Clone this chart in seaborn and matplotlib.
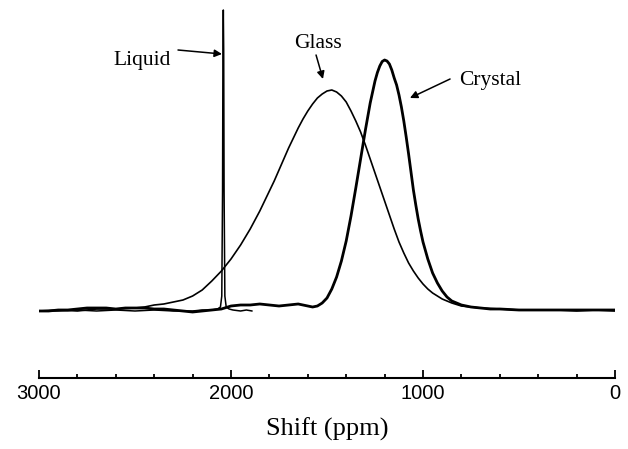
import numpy as np
import pandas as pd
import matplotlib
matplotlib.use("Agg")
import matplotlib.pyplot as plt
import seaborn as sns

# ---- data ----
glass_ppm = [3000, 2900, 2800, 2700, 2600, 2500, 2450, 2400, 2350, 2300, 2250, 2200, 2150, 2100,
             2075, 2050, 2025, 2000, 1975, 1950, 1925, 1900, 1875, 1850, 1825, 1800, 1775, 1750,
             1725, 1700, 1675, 1650, 1625, 1600, 1575, 1550, 1525, 1500, 1475, 1450, 1425, 1400,
             1375, 1350, 1325, 1300, 1275, 1250, 1225, 1200, 1175, 1150, 1125, 1100, 1075, 1050,
             1025, 1000, 975, 950, 925, 900, 875, 850, 800, 750, 700, 600, 500, 400, 300, 200,
             100, 0]
glass_int = [0, 1, 0, 2, 2, 3, 4, 6, 7, 9, 11, 15, 21, 30,
             35, 40, 46, 52, 59, 66, 74, 82, 91, 100, 110, 120, 130, 141,
             152, 163, 173, 183, 192, 200, 207, 213, 217, 220, 221, 219, 215, 209,
             200, 190, 179, 166, 152, 138, 124, 110, 96, 82, 69, 58, 48, 40,
             33, 27, 22, 18, 15, 12, 10, 8, 5, 4, 3, 2, 1, 1, 1, 0,
             1, 0]

crystal_ppm = [3000, 2950, 2900, 2850, 2800, 2750, 2700, 2650, 2600, 2550, 2500, 2450, 2400, 2350,
               2300, 2250, 2200, 2150, 2100, 2050, 2000, 1950, 1900, 1850, 1800, 1750, 1700, 1650,
               1600, 1575, 1550, 1525, 1500, 1475, 1450, 1425, 1400, 1375, 1350, 1325, 1300, 1275,
               1250, 1237.5, 1225, 1212.5, 1200, 1187.5, 1175, 1162.5, 1150, 1137.5, 1125, 1112.5,
               1100, 1087.5, 1075, 1062.5, 1050, 1037.5, 1025, 1012.5, 1000, 975, 950, 925,
               900, 875, 850, 800, 750, 700, 650, 600, 500, 400, 300, 200, 100, 0]
crystal_int = [0, 0, 1, 1, 2, 3, 3, 3, 2, 3, 3, 3, 2, 2,
               1, 0, -1, 0, 1, 2, 5, 6, 6, 7, 6, 5, 6, 7,
               5, 4, 5, 8, 13, 22, 34, 50, 70, 95, 123, 152, 181, 208,
               230, 238.5, 245, 249.5, 251, 250, 247, 241, 233, 226, 216, 204,
               190, 174, 157, 139, 121, 106, 92, 80, 69, 52, 38, 28,
               20, 14, 10, 6, 4, 3, 2, 2, 1, 1, 1, 1, 1, 1]

liquid_ppm = [3000, 2900, 2800, 2700, 2600, 2500, 2400, 2300, 2200, 2150, 2100, 2070, 2055, 2048,
              2044, 2042, 2040, 2038, 2036, 2032, 2025, 2010, 1990, 1950, 1920, 1890]
liquid_int = [0, 0, 1, 0, 1, 0, 1, 0, 0, 1, 1, 2, 4, 15,
              120, 260, 301, 260, 120, 15, 4, 2, 1, 0, 1, 0]

x_ticks_major = [3000, 2000, 1000, 0]
x_tick_labels = ["3000", "2000", "1000", "0"]
x_label = "Shift (ppm)"

labels = {"Liquid": ((2464, 251), (2276, 261), (2047, 257)),
          "Glass": ((1547, 268), (1557, 256), (1521, 232)),
          "Crystal": ((651, 231), (859, 232), (1068, 213))}

# ---- plotting ----
sns.set_style("white")
plt.rcParams["font.family"] = ["Liberation Sans", "DejaVu Sans"]
plt.rcParams["text.color"] = "black"

W, H = 628, 449
fig = plt.figure(figsize=(W / 100, H / 100), dpi=100)
ax = fig.add_axes([39 / W, 1 - 378 / H, (615 - 39) / W, (378 - 8) / H])

glass_df = pd.DataFrame({"ppm": glass_ppm, "I": glass_int})
crystal_df = pd.DataFrame({"ppm": crystal_ppm, "I": crystal_int})
liquid_df = pd.DataFrame({"ppm": liquid_ppm, "I": liquid_int})

sns.lineplot(data=liquid_df, x="ppm", y="I", ax=ax, color="black", lw=1.1,
             sort=False, estimator=None)
sns.lineplot(data=glass_df, x="ppm", y="I", ax=ax, color="black", lw=1.2,
             sort=False, estimator=None)
sns.lineplot(data=crystal_df, x="ppm", y="I", ax=ax, color="black", lw=2.0,
             sort=False, estimator=None)
for ln in ax.lines:
    ln.set_solid_joinstyle("round")

ax.set_xlim(3000, 0)
ax.set_ylim(-67, 303)

for side in ["left", "top", "right"]:
    ax.spines[side].set_visible(False)
ax.spines["bottom"].set_linewidth(1.5)
ax.spines["bottom"].set_color("black")
ax.set_yticks([])
ax.set_ylabel("")

ax.set_xticks(x_ticks_major)
ax.set_xticklabels(x_tick_labels, fontsize=14.5)
ax.set_xticks(np.arange(0, 3001, 200), minor=True)
ax.tick_params(axis="x", which="both", bottom=True, top=False)
ax.tick_params(axis="x", which="major", direction="in", length=5.5, width=1.3,
               pad=4, colors="black")
ax.tick_params(axis="x", which="minor", direction="in", length=3, width=1.3, colors="black")

ax.set_xlabel(x_label, fontsize=19, family=["Liberation Serif", "DejaVu Serif"],
              labelpad=11, color="black")

for name, (txt, start, tip) in labels.items():
    ax.text(txt[0], txt[1], name, ha="center", va="center", fontsize=15.5,
            color="black", family=["Liberation Serif", "DejaVu Serif"])
    ax.annotate("", xy=tip, xytext=start,
                arrowprops=dict(arrowstyle="-|>", color="black", lw=1.1,
                                mutation_scale=11, shrinkA=0, shrinkB=0))

fig.savefig("out.png", dpi=100)
